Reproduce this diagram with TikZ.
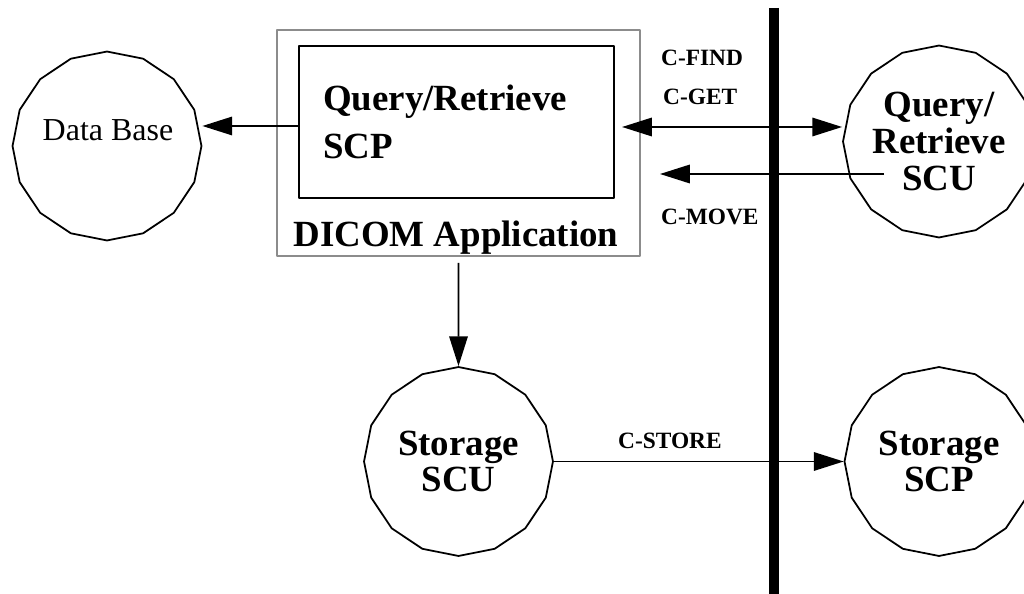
\documentclass[tikz,border=0pt]{standalone}
\usepackage{fontspec}
\setmainfont{Liberation Serif}
\usetikzlibrary{arrows.meta,shapes.geometric}
\definecolor{boxgray}{RGB}{140,140,140}
\tikzset{
	ring/.style={draw,line width=1pt,regular polygon,regular polygon sides=16,shape border rotate=11.25,minimum size=3.78cm,inner sep=0pt,align=center,font=\fontsize{21}{21}\selectfont\bfseries},
	cmd/.style={anchor=base west,font=\fontsize{13.3}{16}\selectfont\bfseries},
	link/.style={line width=1.1pt}
}

\begin{document}
\begin{tikzpicture}[line cap=butt,line join=round,>={Triangle[length=17pt,width=10.5pt]},x=0.02cm,y=-0.02cm]
			\useasboundingbox (0,0) rectangle (1024,594);
			\node[draw=boxgray,line width=1.1pt,minimum width=7.26cm,minimum height=4.52cm,inner sep=0pt] (app) at (458.5,143) {};
			\node[draw,line width=1.2pt,text width=5.34cm,inner xsep=0.48cm,minimum height=3.04cm,align=left,font=\fontsize{21}{27}\selectfont\bfseries] (qrscp) at (456.5,122) {Query/Retrieve\\SCP};
			\node[anchor=base,font=\fontsize{21}{25}\selectfont\bfseries] (apptext) at (456,247) {DICOM Application};
			\node[ring] (db) at (107,146) {};
			\node[anchor=base,font=\fontsize{18.2}{22}\selectfont] (dbtext) at (108,141) {Data Base};
			\node[ring] (qrscu) at (939,141.5) {Query/\\Retrieve\\SCU};
			\node[ring] (scu) at (458.5,461.5) {Storage\\SCU};
			\node[ring] (scp) at (939,461.5) {Storage\\SCP};
			\coordinate (dbrow) at (0,126);
			\coordinate (getrow) at (0,127);
			\coordinate (movestart) at (884,174);
			\coordinate (moveend) at (660,174);
			\coordinate (bartop) at (774,8);
			\coordinate (barbottom) at (774,594);
			\draw [link,->] (qrscp.west |- dbrow) -- (db.east |- dbrow);
			\draw [link,<->,shorten <=4pt] (qrscp.east |- getrow) -- (qrscu.west |- getrow);
			\draw [link,->] (movestart) -- (moveend);
			\draw [link,->,shorten <=3.4pt] (app.south) -- (scu.north);
			\draw [link,->] (scu.east) -- (scp.west);
			\draw [line width=5.7pt] (bartop) -- (barbottom);
			\node[cmd] (find) at (655,66) {C-FIND};
			\node[cmd] (get) at (657,105) {C-GET};
			\node[cmd] (move) at (655,225) {C-MOVE};
			\node[cmd] (store) at (612,448) {C-STORE};
		\end{tikzpicture}
\end{document}
